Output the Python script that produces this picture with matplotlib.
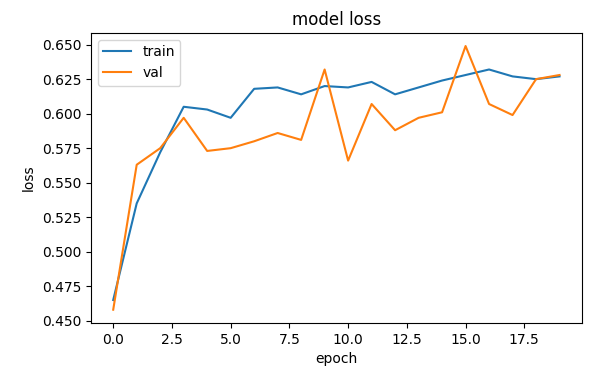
import matplotlib.pyplot as plt

epochs = list(range(20))
train = [0.465, 0.535, 0.572, 0.605, 0.603, 0.597, 0.618, 0.619, 0.614, 0.620,
         0.619, 0.623, 0.614, 0.619, 0.624, 0.628, 0.632, 0.627, 0.625, 0.627]
val = [0.458, 0.563, 0.575, 0.597, 0.573, 0.575, 0.580, 0.586, 0.581, 0.632,
       0.566, 0.607, 0.588, 0.597, 0.601, 0.649, 0.607, 0.599, 0.625, 0.628]

fig, ax = plt.subplots(figsize=(5.98, 3.69), dpi=100)
ax.plot(epochs, train, label="train")
ax.plot(epochs, val, label="val")
ax.set_title("model loss")
ax.set_xlabel("epoch")
ax.set_ylabel("loss")
ax.legend(loc="upper left")
fig.subplots_adjust(left=0.152, right=0.973, top=0.911, bottom=0.125)
fig.savefig("out.png", dpi=100)
